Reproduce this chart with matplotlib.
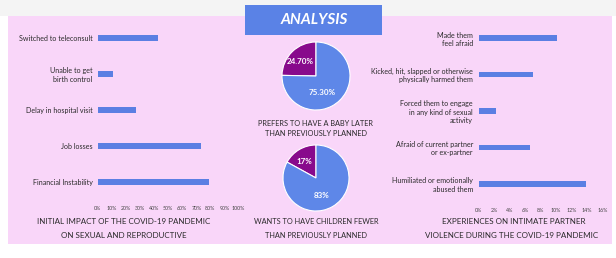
import matplotlib.pyplot as plt
from matplotlib.patches import Rectangle

plt.rcParams['font.family'] = ['Lato', 'DejaVu Sans']

# left panel: initial impact (%)
impact_labels = ["Switched to teleconsult", "Unable to get\nbirth control",
                 "Delay in hospital visit", "Job losses", "Financial Instability"]
impact_values = [43, 11, 27, 73, 79]
impact_ticks = list(range(0, 101, 10))

# right panel: intimate partner violence (%)
ipv_labels = ["Made them\nfeel afraid",
              "Kicked, hit, slapped or otherwise\nphysically harmed them",
              "Forced them to engage\nin any kind of sexual\nactivity",
              "Afraid of current partner\nor ex-partner",
              "Humiliated or emotionally\nabused them"]
ipv_values = [10.1, 7.0, 2.3, 6.6, 13.8]
ipv_ticks = list(range(0, 17, 2))

# pies
later_values = [24.7, 75.3]
later_labels = ["24.70%", "75.30%"]
fewer_values = [17, 83]
fewer_labels = ["17%", "83%"]

W, H = 616, 258
PINK = "#F9D6F9"
BLUE = "#5B7FE3"
PIE_BLUE = "#5E87E8"
PURPLE = "#880A8C"
TXT = "#2b2b2b"

fig = plt.figure(figsize=(W / 100, H / 100), dpi=100)
fig.patch.set_facecolor("white")


def px(x0, y0, x1, y1):
    # pixel box (top-left origin) -> figure fraction rect
    return [x0 / W, 1 - y1 / H, (x1 - x0) / W, (y1 - y0) / H]


bg = fig.add_axes([0, 0, 1, 1])
bg.set_xlim(0, W)
bg.set_ylim(H, 0)
bg.axis("off")
bg.add_patch(Rectangle((0, 0), W, 16, color="#f4f4f4", lw=0))
bg.add_patch(Rectangle((8, 16), 604, 228, color=PINK, lw=0))
bg.add_patch(Rectangle((245, 5), 137, 30, color="#5A82E6", lw=0))
bg.text(314, 20, "ANALYSIS", color="white", fontsize=11, fontweight="bold",
        style="italic", ha="center", va="center")

side_fs = 5.8
pie_fs = 5.3
bg.text(124, 222, "INITIAL IMPACT OF THE COVID-19 PANDEMIC", ha="center",
        va="center", fontsize=side_fs, color=TXT)
bg.text(124, 236, "ON SEXUAL AND REPRODUCTIVE", ha="center", va="center",
        fontsize=side_fs, color=TXT)
bg.text(316, 124, "PREFERS TO HAVE A BABY LATER", ha="center", va="center",
        fontsize=pie_fs, color=TXT)
bg.text(316, 134, "THAN PREVIOUSLY PLANNED", ha="center", va="center",
        fontsize=pie_fs, color=TXT)
bg.text(316, 222, "WANTS TO HAVE CHILDREN FEWER", ha="center", va="center",
        fontsize=pie_fs, color=TXT)
bg.text(316, 236, "THAN PREVIOUSLY PLANNED", ha="center", va="center",
        fontsize=pie_fs, color=TXT)
bg.text(514, 222, "EXPERIENCES ON INTIMATE PARTNER", ha="center", va="center",
        fontsize=side_fs, color=TXT)
bg.text(512, 236, "VIOLENCE DURING THE COVID-19 PANDEMIC", ha="center",
        va="center", fontsize=side_fs, color=TXT)


def bar_panel(rect, labels, values, ticks, xmax):
    ax = fig.add_axes(rect)
    ax.set_facecolor("none")
    y = list(range(len(labels)))
    ax.barh(y, values, height=0.15, color=BLUE)
    ax.set_ylim(len(labels) - 0.5, -0.5)
    ax.set_xlim(0, xmax)
    ax.set_yticks(y)
    ax.set_yticklabels(labels, fontsize=5.1, color=TXT, ha="right",
                       multialignment="right")
    ax.set_xticks(ticks)
    ax.set_xticklabels([f"{t}%" for t in ticks], fontsize=3.8, color="#444")
    ax.tick_params(length=0, pad=4)
    for s in ax.spines.values():
        s.set_visible(False)
    return ax


bar_panel(px(98, 20, 238.5, 200), impact_labels, impact_values, impact_ticks, 100)
bar_panel(px(478.5, 20, 602.7, 202), ipv_labels, ipv_values, ipv_ticks, 16)


def pie_panel(cx, cy, r, values, labels, pos):
    ax = fig.add_axes(px(cx - r, cy - r, cx + r, cy + r))
    ax.pie(values, colors=[PURPLE, PIE_BLUE], startangle=90, counterclock=True,
           wedgeprops=dict(edgecolor="white", linewidth=0.8))
    ax.set_xlim(-1, 1)
    ax.set_ylim(-1, 1)
    ax.set_aspect("equal")
    for lab, (tx, ty) in zip(labels, pos):
        ax.text(tx, ty, lab, color="white", fontsize=5.8, fontweight="bold",
                ha="center", va="center")


pie_panel(316, 76, 34, later_values, later_labels, [(-0.46, 0.42), (0.18, -0.48)])
pie_panel(316, 178, 33, fewer_values, fewer_labels, [(-0.36, 0.5), (0.18, -0.52)])

fig.savefig("out.png", dpi=100)
